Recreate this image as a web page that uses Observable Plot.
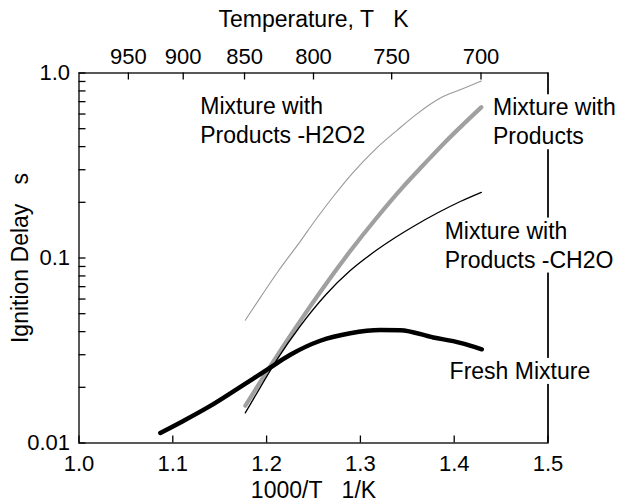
<!DOCTYPE html>
<html>
<head>
<meta charset="utf-8">
<script src="https://cdn.jsdelivr.net/npm/d3@7"></script>
<script src="https://cdn.jsdelivr.net/npm/@observablehq/plot@0.6"></script>
<style>
  html, body { margin: 0; padding: 0; background: #fff; }
</style>
</head>
<body>
<div id="chart"></div>
<script>
// ---- data (1000/T in 1/K, ignition delay in s) ----
const xTicks = [1.0, 1.1, 1.2, 1.3, 1.4, 1.5];
const tempTicks = [950, 900, 850, 800, 750, 700];
const yLabelTicks = [0.01, 0.1, 1];

const h2o2X = [1.1773, 1.1933, 1.2114, 1.2359, 1.2519, 1.2711, 1.2914, 1.3159, 1.3393, 1.3607, 1.3852, 1.4097, 1.4289];
const h2o2Y = [0.0461, 0.0611, 0.0835, 0.123, 0.160, 0.215, 0.287, 0.387, 0.491, 0.603, 0.732, 0.824, 0.905];

const prodX = [1.1773, 1.1933, 1.2111, 1.2359, 1.2608, 1.2892, 1.3170, 1.3457, 1.3671, 1.3905, 1.4097, 1.4289];
const prodY = [0.0159, 0.0214, 0.0296, 0.0457, 0.0695, 0.109, 0.164, 0.243, 0.318, 0.424, 0.528, 0.653];

const ch2oX = [1.1773, 1.1933, 1.2114, 1.2359, 1.2636, 1.2892, 1.3170, 1.3372, 1.3564, 1.3820, 1.4065, 1.4289];
const ch2oY = [0.01455, 0.0200, 0.0284, 0.0429, 0.0637, 0.0855, 0.110, 0.129, 0.148, 0.175, 0.202, 0.2265];

const freshX = [1.0867, 1.1112, 1.1400, 1.1688, 1.2018, 1.2253, 1.2572, 1.2892, 1.3212, 1.3425, 1.3777, 1.4065, 1.4294];
const freshY = [0.01133, 0.01316, 0.01587, 0.01962, 0.02518, 0.0300, 0.0357, 0.0392, 0.0408, 0.0407, 0.0372, 0.0348, 0.0321];

const labelText = ["Mixture with\nProducts -H2O2", "Mixture with\nProducts", "Mixture with\nProducts -CH2O", "Fresh Mixture"];
const labelX = [1.1293, 1.4414, 1.3898, 1.3951];
const labelY = [0.420, 0.412, 0.0888, 0.0222];

const titleTop = "Temperature, T\u00a0\u00a0\u00a0K";
const titleBottom = "1000/T\u00a0\u00a0\u00a01/K";
const titleLeft = "Ignition Delay\u00a0\u00a0\u00a0s";

// ---- build tables ----
const toRows = (xs, ys) => xs.map((x, i) => ({x, y: ys[i]}));
const h2o2 = toRows(h2o2X, h2o2Y);
const prod = toRows(prodX, prodY);
const ch2o = toRows(ch2oX, ch2oY);
const fresh = toRows(freshX, freshY);
const labels = labelText.map((t, i) => ({t, x: labelX[i], y: labelY[i]}));

const yAllTicks = [];
[0.01, 0.1].forEach(b => d3.range(1, 10).forEach(k => yAllTicks.push(+(k * b).toPrecision(3))));
yAllTicks.push(1);

const font = "'Liberation Sans', Arial, Helvetica, sans-serif";
const fmtY = d => (Math.abs(d - 1) < 1e-9 ? "1.0" : Math.abs(d - 0.1) < 1e-9 ? "0.1" : Math.abs(d - 0.01) < 1e-9 ? "0.01" : "");

const W = 621, H = 502, ML = 78.5, MR = 73.5, MT = 72.5, MB = 59.5;
const TICK = 7;
const innerW = W - ML - MR, innerH = H - MT - MB;

const plot = Plot.plot({
  width: W,
  height: H,
  marginLeft: ML,
  marginRight: MR,
  marginTop: MT,
  marginBottom: MB,
  style: {fontFamily: font, fontSize: "22px", background: "#fff", color: "#000", overflow: "visible"},
  x: {domain: [1.0, 1.5]},
  y: {type: "log", domain: [0.01, 1]},
  marks: [
    Plot.line(h2o2, {x: "x", y: "y", stroke: "#999", strokeWidth: 1.1, curve: "monotone-x"}),
    Plot.line(prod, {x: "x", y: "y", stroke: "#a0a0a0", strokeWidth: 4.2, curve: "monotone-x"}),
    Plot.line(ch2o, {x: "x", y: "y", stroke: "#000", strokeWidth: 1.3, curve: "monotone-x"}),
    Plot.line(fresh, {x: "x", y: "y", stroke: "#000", strokeWidth: 4.5, strokeLinecap: "round", curve: "monotone-x"}),
    // inward ticks
    Plot.tickX(xTicks, {x: d => d, insetTop: innerH - TICK, stroke: "#000", strokeWidth: 1.3}),
    Plot.tickX(tempTicks, {x: t => 1000 / t, insetBottom: innerH - TICK, stroke: "#000", strokeWidth: 1.3}),
    Plot.tickY(yAllTicks, {y: d => d, insetRight: innerW - TICK, stroke: "#000", strokeWidth: 1.3}),
    // tick labels
    Plot.axisX({anchor: "bottom", ticks: xTicks, tickSize: 0, tickPadding: 12, tickFormat: d3.format(".1f"), label: null, fontSize: 22}),
    Plot.axisX({anchor: "top", ticks: tempTicks.map(t => 1000 / t), tickSize: 0, tickPadding: 9, tickFormat: d => String(Math.round(1000 / d)), label: null, fontSize: 22}),
    Plot.axisY({anchor: "left", ticks: yAllTicks, tickSize: 0, tickPadding: 9, tickFormat: fmtY, label: null, fontSize: 22}),
    Plot.frame({stroke: "#000", strokeWidth: 1.3}),
    Plot.ruleX([1.5], {stroke: "#000", strokeWidth: 1.3}),
    // axis titles
    Plot.text([titleTop], {frameAnchor: "top", dy: -46, lineAnchor: "bottom", fontSize: 23, fill: "#000"}),
    Plot.text([titleBottom], {frameAnchor: "bottom", dy: 55, lineAnchor: "bottom", fontSize: 23, fill: "#000"}),
    Plot.text([titleLeft], {frameAnchor: "left", dx: -58, rotate: -90, textAnchor: "middle", lineAnchor: "middle", fontSize: 23, fill: "#000"}),
    // curve annotations
    Plot.text(labels, {x: "x", y: "y", text: "t", textAnchor: "start", lineAnchor: "bottom", lineHeight: 1.26, fontSize: 23, fill: "#000"})
  ]
});

document.getElementById("chart").appendChild(plot);

// white boxes behind the curve annotations (they interrupt the frame like the original)
const annText = new Set(labelText.map(s => s.replace(/\n/g, "")));
plot.querySelectorAll("text").forEach(t => {
  if (!annText.has(t.textContent)) return;
  const b = t.getBBox();
  const r = document.createElementNS("http://www.w3.org/2000/svg", "rect");
  r.setAttribute("x", b.x - 2);
  r.setAttribute("y", b.y);
  r.setAttribute("width", b.width + 4);
  r.setAttribute("height", b.height);
  r.setAttribute("fill", "#fff");
  if (t.getAttribute("transform")) r.setAttribute("transform", t.getAttribute("transform"));
  t.parentNode.insertBefore(r, t);
});
</script>
</body>
</html>
